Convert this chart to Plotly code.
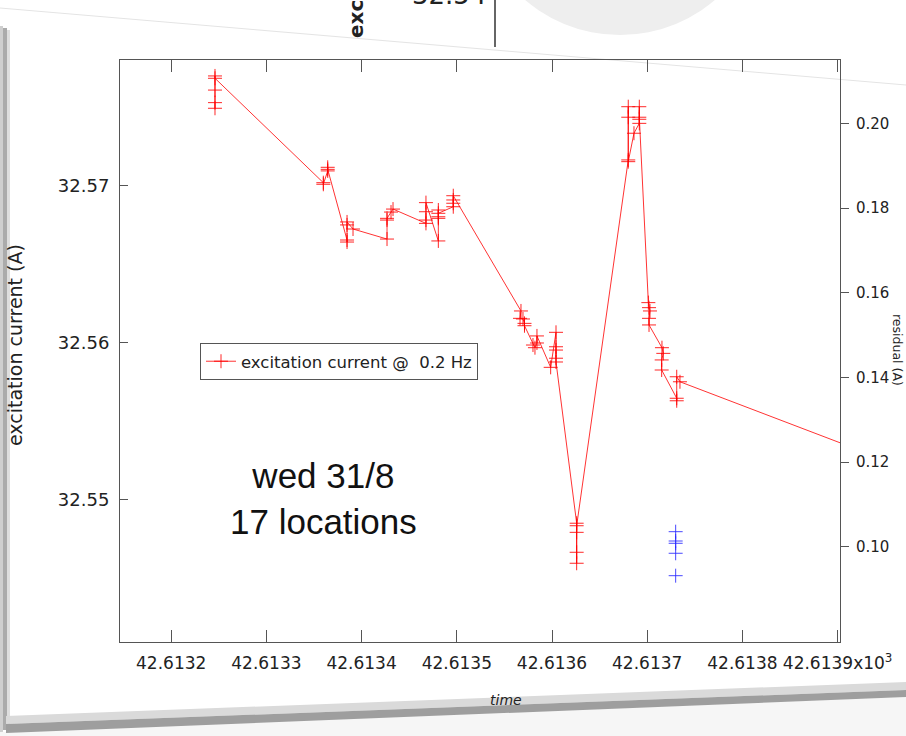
import plotly.graph_objects as go

# Excitation current at 0.2 Hz, several readings per location.
# Time is an Excel serial day number (axis shown in units of 10^3).
time_red = [
    42613.2460, 42613.2460, 42613.2460, 42613.2460, 42613.2460,
    42613.3598, 42613.3598, 42613.3644, 42613.3644, 42613.3644,
    42613.3847, 42613.3847, 42613.3847, 42613.3847, 42613.3910,
    42613.4267, 42613.4267, 42613.4267, 42613.4309, 42613.4330,
    42613.4676, 42613.4676, 42613.4676, 42613.4676,
    42613.4806, 42613.4806, 42613.4806, 42613.4806, 42613.4806,
    42613.4963, 42613.4963, 42613.4963, 42613.4963,
    42613.5674, 42613.5664, 42613.5695, 42613.5711, 42613.5711,
    42613.5800, 42613.5821, 42613.5842, 42613.5842,
    42613.5986, 42613.6042, 42613.6042, 42613.6042, 42613.6042, 42613.6042,
    42613.6259, 42613.6259, 42613.6259, 42613.6259, 42613.6259,
    42613.6801, 42613.6801, 42613.6801, 42613.6801, 42613.6861,
    42613.6917, 42613.6917, 42613.6917, 42613.6917,
    42613.7012, 42613.7019, 42613.7029, 42613.7019, 42613.7019,
    42613.7155, 42613.7169, 42613.7152, 42613.7152,
    42613.7310, 42613.7310, 42613.7310, 42613.7344,
    42614.0286,
]
current_red = [
    32.57495, 32.57531, 32.57611, 32.57701, 32.57686,
    32.57021, 32.57011, 32.57096, 32.57119, 32.57106,
    32.56656, 32.56643, 32.56752, 32.56771, 32.56726,
    32.56662, 32.56783, 32.56794, 32.56834, 32.56853,
    32.56762, 32.56783, 32.56836, 32.56894,
    32.56650, 32.56794, 32.56804, 32.56847, 32.56826,
    32.56868, 32.56890, 32.56911, 32.56938,
    32.56204, 32.56157, 32.56153, 32.56125, 32.56110,
    32.55987, 32.55970, 32.56000, 32.56045,
    32.55845, 32.56068, 32.55976, 32.55955, 32.55903, 32.55879,
    32.54852, 32.54667, 32.54597, 32.54794, 32.54836,
    32.57166, 32.57505, 32.57438, 32.57155, 32.57336,
    32.57399, 32.57425, 32.57505, 32.57438,
    32.56257, 32.56225, 32.56204, 32.56157, 32.56115,
    32.55970, 32.55934, 32.55892, 32.55828,
    32.55648, 32.55632, 32.55785, 32.55753,
    32.55073,
]

# Residual readings (right axis)
time_blue = [42613.7299, 42613.7299, 42613.7299, 42613.7299, 42613.7299]
residual_blue = [0.10357, 0.10137, 0.10083, 0.09847, 0.09318]

x_tickvals = [42613.2, 42613.3, 42613.4, 42613.5, 42613.6, 42613.7, 42613.8, 42613.9]
x_ticktext = ["42.6132", "42.6133", "42.6134", "42.6135", "42.6136",
              "42.6137", "42.6138", "42.6139x10<sup>3</sup>"]
y_tickvals = [32.55, 32.56, 32.57]
y_ticktext = ["32.55", "32.56", "32.57"]
y2_tickvals = [0.10, 0.12, 0.14, 0.16, 0.18, 0.20]
y2_ticktext = ["0.10", "0.12", "0.14", "0.16", "0.18", "0.20"]

W, H = 906, 736
L, R, T, B = 120, 840, 60, 642  # plot area in pixels


def px(x):
    return (x - L) / (R - L)


def py(y):
    return (B - y) / (B - T)


FONT = "DejaVu Sans"
AXIS = "#555555"
TEXT = "#222222"

fig = go.Figure()

fig.add_trace(go.Scatter(
    x=time_red, y=current_red, mode="lines+markers",
    name="excitation current @\u00a0 0.2 Hz",
    line=dict(color="rgba(255,0,0,0.8)", width=1),
    marker=dict(symbol="cross-thin", size=10,
                line=dict(color="rgba(255,0,0,0.85)", width=1)),
    cliponaxis=True,
))
fig.add_trace(go.Scatter(
    x=time_blue, y=residual_blue, mode="markers", yaxis="y2",
    showlegend=False,
    marker=dict(symbol="cross-thin", size=10,
                line=dict(color="rgba(40,40,255,0.85)", width=1)),
))

shapes = [
    # slide edge, faint top line
    dict(type="line", xref="paper", yref="paper",
         x0=px(0), y0=py(8), x1=px(906), y1=py(85),
         line=dict(color="#e4e4e4", width=1), layer="below"),
    # light disc peeking in at the top
    dict(type="circle", xref="paper", yref="paper",
         x0=px(474), x1=px(766), y0=py(35), y1=py(-257),
         fillcolor="#eeeeee", line=dict(width=0), layer="below"),
    # vertical rule of the slide behind
    dict(type="line", xref="paper", yref="paper",
         x0=px(495), y0=py(0), x1=px(495), y1=py(47),
         line=dict(color="#666666", width=2), layer="below"),
    # left bevel
    dict(type="rect", xref="paper", yref="paper",
         x0=px(0), x1=px(3), y0=py(26), y1=py(732),
         fillcolor="#cfcfcf", line=dict(width=0), layer="below"),
    dict(type="rect", xref="paper", yref="paper",
         x0=px(3), x1=px(7), y0=py(28), y1=py(730),
         fillcolor="#ababab", line=dict(width=0), layer="below"),
    dict(type="rect", xref="paper", yref="paper",
         x0=px(7), x1=px(10), y0=py(30), y1=py(728),
         fillcolor="#dedede", line=dict(width=0), layer="below"),
    # area below the slide
    dict(type="path", xref="paper", yref="paper",
         path=f"M {px(0)},{py(736)} L {px(0)},{py(732)} L {px(906)},{py(697)} "
              f"L {px(906)},{py(736)} Z",
         fillcolor="#f6f6f6", line=dict(width=0), layer="below"),
    # bottom bevel, light then dark band
    dict(type="path", xref="paper", yref="paper",
         path=f"M {px(6)},{py(716)} L {px(906)},{py(682)} L {px(906)},{py(690)} "
              f"L {px(6)},{py(724)} Z",
         fillcolor="#dadada", line=dict(width=0), layer="below"),
    dict(type="path", xref="paper", yref="paper",
         path=f"M {px(6)},{py(724)} L {px(906)},{py(690)} L {px(906)},{py(697)} "
              f"L {px(6)},{py(733)} Z",
         fillcolor="#9e9e9e", line=dict(width=0), layer="below"),
]

annotations = [
    dict(text="wed 31/8<br>17 locations", xref="paper", yref="paper",
         x=px(323), y=py(498), xanchor="center", yanchor="middle",
         showarrow=False, align="center",
         font=dict(family="Liberation Sans", size=35, color="#111111")),
    dict(text="excitation current (A)", xref="paper", yref="paper",
         x=px(15), y=py(345), xanchor="center", yanchor="middle",
         textangle=-90, showarrow=False,
         font=dict(family=FONT, size=19, color=TEXT)),
    dict(text="residual (A)", xref="paper", yref="paper",
         x=px(898), y=py(350), xanchor="center", yanchor="middle",
         textangle=90, showarrow=False,
         font=dict(family=FONT, size=12.5, color=TEXT)),
    dict(text="<i>time</i>", xref="paper", yref="paper",
         x=px(506), y=py(700), xanchor="center", yanchor="middle",
         showarrow=False, font=dict(family=FONT, size=14, color=TEXT)),
    # partial labels from the slide behind
    dict(text="32.54", xref="paper", yref="paper",
         x=px(488), y=py(12), xanchor="right", yanchor="bottom",
         showarrow=False, font=dict(family=FONT, size=26, color=TEXT)),
    dict(text="<b>excitation current (A)</b>", xref="paper", yref="paper",
         x=px(356), y=py(40), xanchor="center", yanchor="bottom",
         textangle=-90, showarrow=False,
         font=dict(family=FONT, size=20, color=TEXT)),
]

fig.update_layout(
    width=W, height=H,
    margin=dict(l=L, r=W - R, t=T, b=H - B, pad=0),
    paper_bgcolor="white", plot_bgcolor="white",
    font=dict(family=FONT, color=TEXT),
    showlegend=True,
    legend=dict(x=px(200), y=py(343), xanchor="left", yanchor="top",
                bordercolor="#555555", borderwidth=1, bgcolor="white",
                font=dict(family=FONT, size=16.5, color=TEXT),
                itemwidth=30, tracegroupgap=0),
    xaxis=dict(range=[42613.14622, 42613.90251], showgrid=False, zeroline=False,
               showline=True, linecolor=AXIS, linewidth=1, mirror="ticks",
               ticks="inside", ticklen=12, tickcolor=AXIS, tickwidth=1,
               tickvals=x_tickvals, ticktext=x_ticktext, ticklabelstandoff=6,
               tickfont=dict(family=FONT, size=17, color=TEXT)),
    yaxis=dict(range=[32.540955, 32.578025], showgrid=False, zeroline=False,
               showline=True, linecolor=AXIS, linewidth=1,
               ticks="inside", ticklen=8, tickcolor=AXIS, tickwidth=1,
               tickvals=y_tickvals, ticktext=y_ticktext, ticklabelstandoff=6,
               tickfont=dict(family=FONT, size=18, color=TEXT)),
    yaxis2=dict(range=[0.077521, 0.214947], overlaying="y", side="right",
                showgrid=False, zeroline=False,
                showline=True, linecolor=AXIS, linewidth=1,
                ticks="outside", ticklen=8, tickcolor=AXIS, tickwidth=1,
                tickvals=y2_tickvals, ticktext=y2_ticktext, ticklabelstandoff=4,
                tickfont=dict(family=FONT, size=15, color=TEXT)),
    shapes=shapes,
    annotations=annotations,
)

fig.write_html("out.html")
